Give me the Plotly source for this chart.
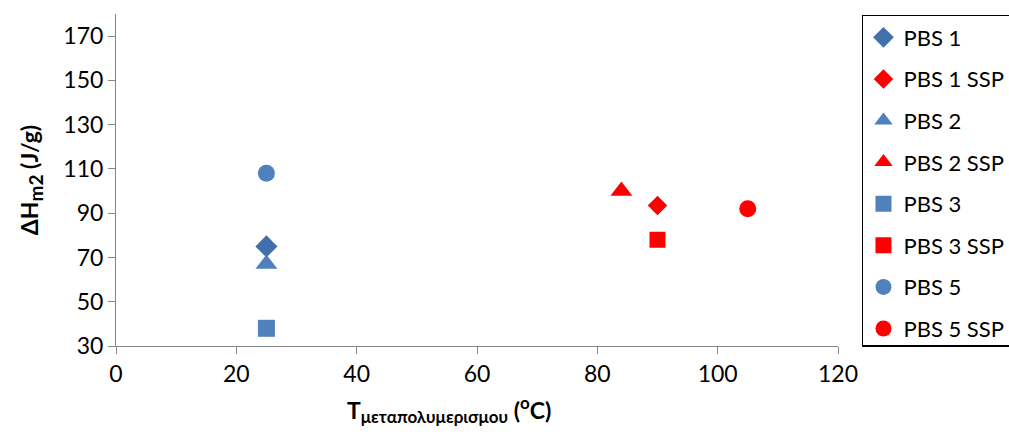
import plotly.graph_objects as go

series_names = ["PBS 1", "PBS 1 SSP", "PBS 2", "PBS 2 SSP", "PBS 3", "PBS 3 SSP", "PBS 5", "PBS 5 SSP"]
x_values = [[25], [90], [25], [84], [25], [90], [25], [105]]
y_values = [[75], [93.5], [67], [100], [38], [78], [108], [92]]
symbols = ["diamond", "diamond", "triangle-up", "triangle-up", "square", "square", "circle", "circle"]
colors = ["#4270AA", "#FF0000", "#4F81BD", "#FF0000", "#4F81BD", "#FF0000", "#4F81BD", "#FF0000"]
sizes = [17, 15, 19, 19, 17, 16, 17, 17]

x_ticks = [0, 20, 40, 60, 80, 100, 120]
y_ticks = [30, 50, 70, 90, 110, 130, 150, 170]

FONT = "Lato, Calibri, Carlito, sans-serif"

fig = go.Figure()
for i, name in enumerate(series_names):
    fig.add_trace(go.Scatter(
        x=x_values[i], y=y_values[i], mode="markers", name=name,
        legendgroup=name,
        marker=dict(symbol=symbols[i], color=colors[i], size=sizes[i], line=dict(width=0)),
    ))

axis_common = dict(
    showgrid=False, zeroline=False, showline=True, linecolor="#868686", linewidth=1,
    ticks="outside", tickcolor="#868686", ticklen=7, tickwidth=1,
    tickfont=dict(family=FONT, size=23, color="#000000"),
)

fig.update_layout(
    width=1009, height=435,
    margin=dict(l=116, r=171, t=14, b=89, autoexpand=False),
    paper_bgcolor="white", plot_bgcolor="white",
    font=dict(family=FONT, color="#000000"),
    showlegend=True,
    legend=dict(
        x=1.0332, xanchor="left", y=0.997, yanchor="top",
        bordercolor="#000000", borderwidth=1.5,
        font=dict(family=FONT, size=22, color="#000000"),
        traceorder="grouped", tracegroupgap=10,
        itemsizing="trace", maxheight=1.0,
    ),
    xaxis=dict(range=[0, 120], tickvals=x_ticks, **axis_common),
    yaxis=dict(range=[30, 180], tickvals=y_ticks,
               title=dict(text="<b>ΔH<sub><span style=\"font-size:19px\">m2</span></sub> (J/g)</b>",
                          font=dict(family=FONT, size=23), standoff=18),
               **axis_common),
    annotations=[dict(
        text="<b>T<sub><span style=\"font-size:17px\">μεταπολυμερισμου</span></sub> (<sup><span style=\"font-size:17px\">o</span></sup>C)</b>",
        xref="paper", yref="paper", x=0.461, y=-0.132, xanchor="center", yanchor="top",
        showarrow=False, font=dict(family=FONT, size=23, color="#000000"),
    )],
)

fig.write_html("out.html")
